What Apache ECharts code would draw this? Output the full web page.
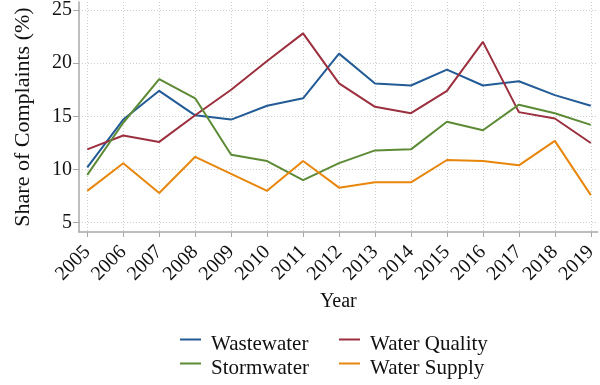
<!DOCTYPE html>
<html>
<head>
<meta charset="utf-8">
<script src="https://cdn.jsdelivr.net/npm/echarts@6/dist/echarts.min.js"></script>
<style>
  html, body { margin: 0; padding: 0; background: #fff; }
  #chart { width: 600px; height: 385px; }
</style>
</head>
<body>
<div id="chart"></div>
<script>
// Share of complaints by category, 2005-2019
const years = [2005, 2006, 2007, 2008, 2009, 2010, 2011, 2012, 2013, 2014, 2015, 2016, 2017, 2018, 2019];
const wastewater   = [10.2, 14.7, 17.4, 15.1, 14.7, 16.0, 16.7, 20.9, 18.1, 17.9, 19.4, 17.9, 18.3, 17.0, 16.0];
const waterQuality = [11.9, 13.2, 12.6, 15.1, 17.5, 20.2, 22.8, 18.1, 15.9, 15.3, 17.4, 22.0, 15.4, 14.8, 12.5];
const stormwater   = [9.5, 14.4, 18.5, 16.7, 11.4, 10.8, 9.0, 10.6, 11.8, 11.9, 14.5, 13.7, 16.1, 15.3, 14.2];
const waterSupply  = [8.0, 10.6, 7.8, 11.2, 9.6, 8.0, 10.8, 8.3, 8.8, 8.8, 10.9, 10.8, 10.4, 12.7, 7.6];
const yTicks = [5, 10, 15, 20, 25];

const FONT = 'Liberation Serif';
const colors = {
  'Wastewater': '#225b95',
  'Water Quality': '#9b2f3e',
  'Stormwater': '#5c8a35',
  'Water Supply': '#e8860c'
};

function pairs(vals) {
  return years.map((y, i) => [y, vals[i]]);
}

function lineSeries(name, vals) {
  return {
    name: name,
    type: 'line',
    data: pairs(vals),
    symbol: 'none',
    lineStyle: { width: 2, color: colors[name] },
    itemStyle: { color: colors[name] },
    animation: false
  };
}

// legend labels sit a little below their line samples
const legendText = {
  fontFamily: FONT,
  fontSize: 21,
  color: '#111',
  rich: {
    t: { fontFamily: FONT, fontSize: 21, color: '#111', padding: [10, 0, 0, 5] }
  }
};

function legendColumn(names, left) {
  return {
    data: names,
    orient: 'vertical',
    left: left,
    top: 334,
    padding: 0,
    icon: 'rect',
    itemWidth: 21,
    itemHeight: 2,
    itemGap: 3,
    selectedMode: false,
    formatter: name => '{t|' + name + '}',
    textStyle: legendText
  };
}

const gridLine = { show: true, lineStyle: { color: '#cfcfcf', type: [1, 2], width: 1 } };

const chart = echarts.init(document.getElementById('chart'), null, { renderer: 'canvas' });
chart.setOption({
  backgroundColor: '#fff',
  animation: false,
  grid: { left: 79, top: 0, right: 0, bottom: 153, containLabel: false },
  xAxis: {
    type: 'value',
    min: 2004.77,
    max: 2019.19,
    name: 'Year',
    nameLocation: 'middle',
    nameGap: 57,
    nameTextStyle: { fontFamily: FONT, fontSize: 20, color: '#111' },
    axisLine: { show: true, lineStyle: { color: '#a8a8a8', width: 1.5 } },
    axisTick: { show: true, length: 5, lineStyle: { color: '#a8a8a8', width: 1 }, customValues: years },
    axisLabel: {
      customValues: years,
      rotate: 45,
      margin: 17,
      fontFamily: FONT,
      fontSize: 20,
      color: '#111',
      formatter: v => String(v)
    },
    splitLine: gridLine
  },
  yAxis: {
    type: 'value',
    min: 4.13,
    max: 25.75,
    name: 'Share of Complaints (%)',
    nameLocation: 'middle',
    nameGap: 45,
    nameTextStyle: { fontFamily: FONT, fontSize: 22, color: '#111' },
    axisLine: { show: true, lineStyle: { color: '#a8a8a8', width: 1.5 } },
    axisTick: { show: true, length: 6, lineStyle: { color: '#a8a8a8', width: 1 }, customValues: yTicks },
    axisLabel: {
      customValues: yTicks,
      margin: 7,
      fontFamily: FONT,
      fontSize: 20,
      color: '#111'
    },
    splitLine: gridLine
  },
  legend: [
    legendColumn(['Wastewater', 'Stormwater'], 180),
    legendColumn(['Water Quality', 'Water Supply'], 339)
  ],
  series: [
    lineSeries('Wastewater', wastewater),
    lineSeries('Water Quality', waterQuality),
    lineSeries('Stormwater', stormwater),
    lineSeries('Water Supply', waterSupply)
  ]
});
</script>
</body>
</html>
